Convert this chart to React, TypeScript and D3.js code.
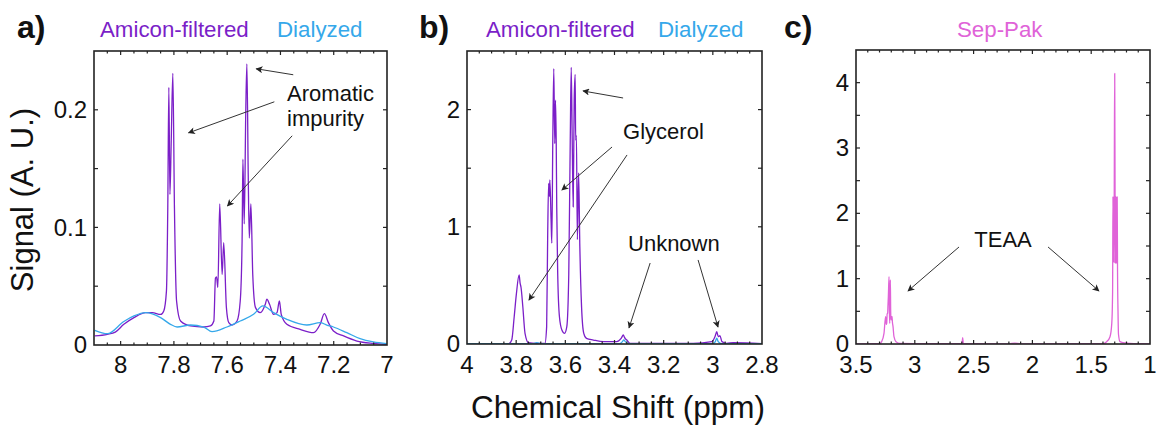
import React from 'react';
import * as d3 from 'd3';

type Pt = [number, number];

// ---------- DATA (ppm, signal) ----------
const aAmicon: Pt[] = [
  [8.097, 0.0077], [8.05, 0.0091], [8.02, 0.011], [7.988, 0.0176], [7.95, 0.0233], [7.906, 0.0275],
  [7.881, 0.0275], [7.85, 0.026], [7.838, 0.029], [7.828, 0.046], [7.823, 0.117], [7.819, 0.219],
  [7.815, 0.128], [7.81, 0.174], [7.804, 0.231], [7.798, 0.117], [7.79, 0.0374], [7.775, 0.0204],
  [7.738, 0.0162], [7.688, 0.0153], [7.663, 0.0162], [7.65, 0.0204], [7.644, 0.057], [7.64, 0.058],
  [7.635, 0.049], [7.628, 0.12], [7.619, 0.06], [7.613, 0.087], [7.603, 0.032], [7.594, 0.019],
  [7.582, 0.017], [7.563, 0.0204], [7.551, 0.0374], [7.544, 0.0885], [7.541, 0.158], [7.536, 0.103],
  [7.53, 0.202], [7.526, 0.239], [7.521, 0.145], [7.517, 0.091], [7.511, 0.12], [7.504, 0.06],
  [7.494, 0.032], [7.476, 0.0275], [7.457, 0.0346], [7.451, 0.039], [7.441, 0.0346], [7.426, 0.026],
  [7.413, 0.0275], [7.404, 0.0374], [7.397, 0.026], [7.376, 0.0176], [7.326, 0.0133], [7.276, 0.0105],
  [7.251, 0.0176], [7.235, 0.0267], [7.22, 0.019], [7.201, 0.0119], [7.163, 0.0077], [7.113, 0.0034],
  [7.051, 0.0014], [7.001, 0.0006],
];
const aDialyzed: Pt[] = [
  [8.097, 0.0125], [8.05, 0.0096], [7.988, 0.02], [7.95, 0.0247], [7.906, 0.0275], [7.85, 0.0233],
  [7.813, 0.0176], [7.788, 0.0153], [7.738, 0.017], [7.688, 0.0153], [7.657, 0.0113], [7.601, 0.0153],
  [7.551, 0.0204], [7.501, 0.0261], [7.466, 0.0332], [7.426, 0.0275], [7.376, 0.0218], [7.301, 0.017],
  [7.251, 0.019], [7.226, 0.017], [7.201, 0.0153], [7.151, 0.0105], [7.101, 0.0054], [7.051, 0.0026],
  [7.001, 0.0011],
];
const bAmicon: Pt[] = [
  [4.0, 0.003], [3.83, 0.003], [3.818, 0.034], [3.808, 0.233], [3.799, 0.43], [3.788, 0.59],
  [3.784, 0.52], [3.78, 0.48], [3.773, 0.32], [3.764, 0.091], [3.75, 0.011], [3.72, 0.006],
  [3.683, 0.006], [3.676, 0.148], [3.672, 0.89], [3.668, 1.37], [3.665, 1.26], [3.663, 1.4],
  [3.658, 1.06], [3.655, 0.86], [3.651, 1.74], [3.647, 2.35], [3.643, 1.71], [3.64, 2.08],
  [3.637, 1.71], [3.635, 1.17], [3.631, 0.6], [3.624, 0.233], [3.614, 0.12], [3.603, 0.091],
  [3.594, 0.148], [3.586, 0.6], [3.58, 1.74], [3.576, 2.36], [3.572, 1.74], [3.568, 1.17],
  [3.564, 2.08], [3.56, 2.3], [3.558, 1.74], [3.555, 1.78], [3.551, 0.89], [3.546, 1.46],
  [3.541, 0.83], [3.534, 0.319], [3.525, 0.091], [3.514, 0.048], [3.486, 0.034], [3.445, 0.02],
  [3.391, 0.02], [3.373, 0.048], [3.364, 0.077], [3.36, 0.06], [3.357, 0.048], [3.35, 0.034],
  [3.337, 0.006], [3.08, 0.006], [3.004, 0.02], [2.991, 0.063], [2.984, 0.105], [2.978, 0.063],
  [2.971, 0.071], [2.963, 0.02], [2.944, 0.006], [2.917, 0.011], [2.8, 0.003],
];
const bDialyzed: Pt[] = [
  [4.0, 0.002], [3.73, 0.002], [3.716, 0.012], [3.7, 0.002], [3.38, 0.002], [3.368, 0.02],
  [3.362, 0.035], [3.356, 0.02], [3.34, 0.002], [3.0, 0.003], [2.99, 0.02], [2.984, 0.05],
  [2.978, 0.02], [2.965, 0.003], [2.8, 0.002],
];
const cSepPak: Pt[] = [
  [3.5, 0.002], [3.3, 0.004], [3.282, 0.036], [3.262, 0.163], [3.248, 0.418], [3.243, 0.3],
  [3.239, 0.316], [3.235, 0.46], [3.231, 0.469], [3.228, 0.6], [3.225, 0.72], [3.219, 1.03],
  [3.216, 0.5], [3.213, 0.316], [3.21, 0.7], [3.208, 0.98], [3.205, 0.5], [3.202, 0.367],
  [3.198, 0.42], [3.194, 0.418], [3.19, 0.33], [3.185, 0.265], [3.177, 0.112], [3.16, 0.036],
  [3.126, 0.01], [2.9, 0.004], [2.61, 0.004], [2.598, 0.02], [2.593, 0.097], [2.588, 0.02],
  [2.58, 0.004], [2.2, 0.003], [2.15, 0.012], [2.1, 0.003], [1.4, 0.005], [1.368, 0.036],
  [1.34, 0.112], [1.325, 0.316], [1.318, 0.8], [1.315, 2.26], [1.312, 1.25], [1.309, 2.26],
  [1.306, 1.25], [1.303, 3.0], [1.3, 4.14], [1.297, 2.26], [1.294, 1.23], [1.291, 2.26],
  [1.288, 1.23], [1.285, 2.26], [1.282, 1.25], [1.279, 2.25], [1.276, 1.1], [1.272, 0.5],
  [1.268, 0.15], [1.255, 0.036], [1.227, 0.02], [1.2, 0.015], [1.17, 0.01], [1.0, 0.003],
];

// tick labels
const aXLabels = [8, 7.8, 7.6, 7.4, 7.2, 7];
const aYLabels = [0, 0.1, 0.2];
const bXLabels = [4, 3.8, 3.6, 3.4, 3.2, 3, 2.8];
const bYLabels = [0, 1, 2];
const cXLabels = [3.5, 3, 2.5, 2, 1.5, 1];
const cYLabels = [0, 1, 2, 3, 4];

// annotations: [x1, y1, x2, y2] in data units (arrow tail -> head)
const aArrows = [
  [7.352, 0.2298, 7.491, 0.2349],
  [7.423, 0.2068, 7.745, 0.1804],
  [7.356, 0.1779, 7.599, 0.1183],
];
const aTexts: [string, number, number][] = [["Aromatic", 7.375, 0.2077], ["impurity", 7.375, 0.1864]];
const bArrows = [
  [3.365, 2.099, 3.528, 2.159],
  [3.41, 1.681, 3.614, 1.314],
  [3.349, 1.613, 3.748, 0.375],
  [3.255, 0.691, 3.341, 0.137],
  [3.06, 0.717, 2.979, 0.145],
];
const bTexts: [string, number, number][] = [["Glycerol", 3.365, 1.75], ["Unknown", 3.345, 0.794]];
const cArrows = [
  [2.624, 1.485, 3.058, 0.812],
  [1.867, 1.485, 1.434, 0.812],
];
const cTexts: [string, number, number][] = [["TEAA", 2.25, 1.485]];

const PURPLE = '#7b1fc8';
const BLUE = '#35a8ea';
const MAGENTA = '#e063d8';
const AXIS = '#222';
const FONT = "'Liberation Sans', Arial, Helvetica, sans-serif";

interface PanelCfg {
  id: string;
  letter: string;
  letterX: number;
  left: number; right: number; top: number; bottom: number;
  xDomain: [number, number];
  yDomain: [number, number];
  xMinor: number; xMajor: number; xLabels: number[];
  yStep: number; yLabels: number[];
  series: { data: Pt[]; color: string }[];
  titles: { text: string; color: string; x: number }[];
  arrows: number[][];
  texts: [string, number, number][];
  textAnchor: string;
}

const panels: PanelCfg[] = [
  {
    id: 'a', letter: 'a)', letterX: 17,
    left: 94, right: 387, top: 51, bottom: 345,
    xDomain: [8.1, 7.0], yDomain: [0, 0.25],
    xMinor: 0.05, xMajor: 0.2, xLabels: aXLabels,
    yStep: 0.05, yLabels: aYLabels,
    series: [{ data: aAmicon, color: PURPLE }, { data: aDialyzed, color: BLUE }],
    titles: [{ text: 'Amicon-filtered', color: PURPLE, x: 100 }, { text: 'Dialyzed', color: BLUE, x: 277 }],
    arrows: aArrows, texts: aTexts, textAnchor: 'start',
  },
  {
    id: 'b', letter: 'b)', letterX: 419,
    left: 467, right: 762, top: 51, bottom: 344,
    xDomain: [4, 2.8], yDomain: [0, 2.5],
    xMinor: 0.05, xMajor: 0.2, xLabels: bXLabels,
    yStep: 0.5, yLabels: bYLabels,
    series: [{ data: bAmicon, color: PURPLE }, { data: bDialyzed, color: BLUE }],
    titles: [{ text: 'Amicon-filtered', color: PURPLE, x: 486 }, { text: 'Dialyzed', color: BLUE, x: 658 }],
    arrows: bArrows, texts: bTexts, textAnchor: 'start',
  },
  {
    id: 'c', letter: 'c)', letterX: 784,
    left: 856, right: 1150, top: 50, bottom: 344,
    xDomain: [3.5, 1], yDomain: [0, 4.5],
    xMinor: 0.1, xMajor: 0.5, xLabels: cXLabels,
    yStep: 0.5, yLabels: cYLabels,
    series: [{ data: cSepPak, color: MAGENTA }],
    titles: [{ text: 'Sep-Pak', color: MAGENTA, x: 957 }],
    arrows: cArrows, texts: cTexts, textAnchor: 'middle',
  },
];

function stepValues(lo: number, hi: number, step: number): number[] {
  const a = Math.min(lo, hi), b = Math.max(lo, hi);
  const start = Math.ceil(a / step - 1e-6);
  const end = Math.floor(b / step + 1e-6);
  return d3.range(start, end + 1).map(i => +(i * step).toFixed(6));
}

function fmt(v: number): string {
  return String(+v.toFixed(3));
}

function Panel({ cfg }: { cfg: PanelCfg }) {
  const x = d3.scaleLinear().domain(cfg.xDomain).range([cfg.left, cfg.right]);
  const y = d3.scaleLinear().domain(cfg.yDomain).range([cfg.bottom, cfg.top]);
  const line = d3.line<Pt>().x(d => x(d[0])).y(d => y(d[1])).curve(d3.curveMonotoneX);
  const xTicks = stepValues(cfg.xDomain[0], cfg.xDomain[1], cfg.xMinor);
  const yTicks = stepValues(cfg.yDomain[0], cfg.yDomain[1], cfg.yStep).filter(v => v > cfg.yDomain[0] && v < cfg.yDomain[1]);
  const isMajor = (v: number) => Math.abs(v / cfg.xMajor - Math.round(v / cfg.xMajor)) < 1e-4;
  const clipId = `clip-${cfg.id}`;
  return (
    <g>
      <defs>
        <clipPath id={clipId}>
          <rect x={cfg.left} y={cfg.top} width={cfg.right - cfg.left} height={cfg.bottom - cfg.top} />
        </clipPath>
      </defs>
      <text x={cfg.letterX} y={38} fontFamily={FONT} fontWeight="bold" fontSize={32} fill="#111">{cfg.letter}</text>
      {cfg.titles.map((t, i) => (
        <text key={i} x={t.x} y={37} fontFamily={FONT} fontSize={22.3} fill={t.color}>{t.text}</text>
      ))}
      <g clipPath={`url(#${clipId})`}>
        {cfg.series.map((s, i) => (
          <path key={i} d={line(s.data) || ''} fill="none" stroke={s.color} strokeWidth={1.3} strokeLinejoin="round" />
        ))}
      </g>
      {/* ticks */}
      {xTicks.filter(v => x(v) > cfg.left + 0.5 && x(v) < cfg.right - 0.5).map((v, i) => {
        const len = isMajor(v) ? 4 : 2.5;
        return (
          <g key={'xt' + i} stroke={AXIS} strokeWidth={1.2}>
            <line x1={x(v)} x2={x(v)} y1={cfg.bottom} y2={cfg.bottom - len} />
            <line x1={x(v)} x2={x(v)} y1={cfg.top} y2={cfg.top + len} />
          </g>
        );
      })}
      {yTicks.map((v, i) => (
        <g key={'yt' + i} stroke={AXIS} strokeWidth={1.2}>
          <line x1={cfg.left} x2={cfg.left + 4} y1={y(v)} y2={y(v)} />
          <line x1={cfg.right} x2={cfg.right - 4} y1={y(v)} y2={y(v)} />
        </g>
      ))}
      <rect x={cfg.left} y={cfg.top} width={cfg.right - cfg.left} height={cfg.bottom - cfg.top} fill="none" stroke={AXIS} strokeWidth={1.6} />
      {cfg.xLabels.map((v, i) => (
        <text key={'xl' + i} x={x(v)} y={373} textAnchor="middle" fontFamily={FONT} fontSize={24} fill="#111">{fmt(v)}</text>
      ))}
      {cfg.yLabels.map((v, i) => (
        <text key={'yl' + i} x={cfg.left - 7} y={y(v)} dy="0.34em" textAnchor="end" fontFamily={FONT} fontSize={24} fill="#111">{fmt(v)}</text>
      ))}
      {/* annotations */}
      {cfg.arrows.map((a, i) => (
        <line key={'ar' + i} x1={x(a[0])} y1={y(a[1])} x2={x(a[2])} y2={y(a[3])} stroke="#333" strokeWidth={1} markerEnd="url(#arrowhead)" />
      ))}
      {cfg.texts.map((t, i) => (
        <text key={'tx' + i} x={x(t[1])} y={y(t[2])} textAnchor={cfg.textAnchor} fontFamily={FONT} fontSize={22} fill="#111">{t[0]}</text>
      ))}
    </g>
  );
}

export default function App() {
  return (
    <svg width={1159} height={425} viewBox="0 0 1159 425" style={{ position: 'absolute', left: 0, top: 0, background: '#fff' }}>
      <defs>
        <marker id="arrowhead" viewBox="0 0 10 10" refX={9} refY={5} markerWidth={9} markerHeight={7} markerUnits="userSpaceOnUse" orient="auto">
          <path d="M0,0 L10,5 L0,10 L2.5,5 Z" fill="#222" />
        </marker>
      </defs>
      <rect x={0} y={0} width={1159} height={425} fill="#fff" />
      {panels.map(p => <Panel key={p.id} cfg={p} />)}
      <text transform="translate(33,200) rotate(-90)" textAnchor="middle" fontFamily={FONT} fontSize={31} fill="#111">Signal (A. U.)</text>
      <text x={618} y={418} textAnchor="middle" fontFamily={FONT} fontSize={31.5} fill="#111">Chemical Shift (ppm)</text>
    </svg>
  );
}
